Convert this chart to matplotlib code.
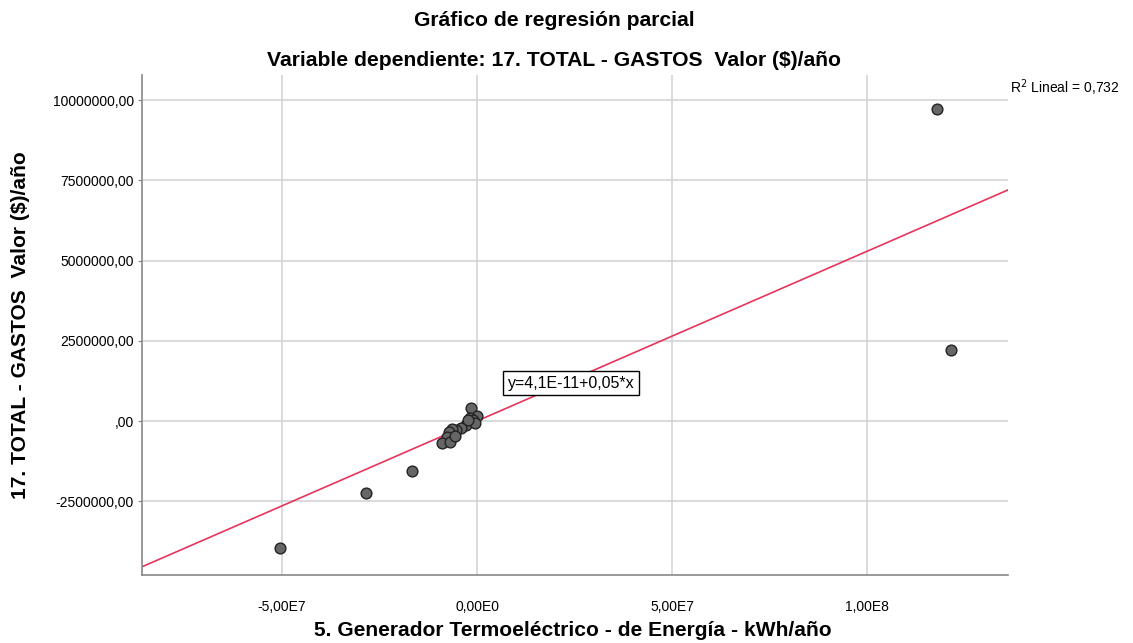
import matplotlib
matplotlib.use("Agg")
import matplotlib.pyplot as plt
import numpy as np

plt.rcParams['font.family'] = ['Liberation Sans', 'DejaVu Sans']

# residual X (kWh/año) and residual Y ($/año)
x_vals = [1.1795e8, 1.2154e8, -1.667e7, -2.846e7, -5.051e7,
          -1.54e6, 0.0, -1.79e6, -1.03e6, -2.82e6, -4.10e6, -5.38e6,
          -6.41e6, -7.18e6, -7.69e6, -8.97e6, -6.92e6, -5.64e6, -0.51e6, -2.31e6]
y_vals = [9.726e6, 2.213e6, -1.559e6, -2.244e6, -3.959e6,
          405000, 156000, 94000, 31000, -125000, -218000, -281000,
          -249000, -343000, -499000, -686000, -655000, -468000, -62000, 31000]

fit_intercept = 4.1e-11
fit_slope = 0.0529
r2_text = "R$^2$ Lineal = 0,732"
eq_text = "y=4,1E-11+0,05*x"

x_ticks = [-5e7, 0, 5e7, 1e8]
x_tick_labels = ["-5,00E7", "0,00E0", "5,00E7", "1,00E8"]
y_ticks = [-2.5e6, 0, 2.5e6, 5e6, 7.5e6, 1e7]
y_tick_labels = ["-2500000,00", ",00", "2500000,00", "5000000,00", "7500000,00", "10000000,00"]

title1 = "Gráfico de regresión parcial"
title2 = "Variable dependiente: 17. TOTAL - GASTOS  Valor ($)/año"
xlabel = "5. Generador Termoeléctrico - de Energía - kWh/año"
ylabel = "17. TOTAL - GASTOS  Valor ($)/año"

W, H = 1133, 643
fig = plt.figure(figsize=(W / 100, H / 100), dpi=100)
ax = fig.add_axes([142 / W, 1 - 575 / H, (1008 - 142) / W, (575 - 75) / H])

xlim = (-8.59e7, 1.3615e8)
ylim = (-4.8e6, 10.785e6)
ax.set_xlim(*xlim)
ax.set_ylim(*ylim)

ax.grid(True, color='#d4d4d4', linewidth=1.2)
ax.set_axisbelow(True)

xl = np.array(xlim)
ax.plot(xl, fit_intercept + fit_slope * xl, color='#e8345c', linewidth=1.2, zorder=2)

ax.scatter(x_vals, y_vals, s=60, facecolor='#666666', edgecolor='#222222',
           linewidth=1.0, zorder=3)

ax.set_xticks(x_ticks)
ax.set_xticklabels(x_tick_labels, fontsize=10)
ax.set_yticks(y_ticks)
ax.set_yticklabels(y_tick_labels, fontsize=10)
ax.tick_params(axis='x', length=0, pad=18)
ax.tick_params(axis='y', length=3, color='#888888', pad=3)

for s in ['top', 'right']:
    ax.spines[s].set_visible(False)
for s in ['left', 'bottom']:
    ax.spines[s].set_color('#888888')
    ax.spines[s].set_linewidth(1.2)

ax.text(7.9e6, 1.18e6, eq_text, fontsize=11.5, va='center', ha='left',
        bbox=dict(boxstyle='square,pad=0.3', facecolor='white', edgecolor='black', linewidth=1),
        zorder=5)

fig.text(1120 / W, 1 - 88 / H, r2_text, fontsize=10, ha='right', va='center')
fig.text(554 / W, 1 - 20 / H, title1, fontsize=15.2, fontweight='bold', ha='center', va='center')
fig.text(554 / W, 1 - 60 / H, title2, fontsize=15.2, fontweight='bold', ha='center', va='center')
fig.text(573 / W, 1 - 630 / H, xlabel, fontsize=15.1, fontweight='bold', ha='center', va='center')
fig.text(21 / W, 1 - 325 / H, ylabel, fontsize=15.1, fontweight='bold', ha='center', va='center', rotation=90)

fig.savefig("out.png", dpi=100, facecolor='white')
